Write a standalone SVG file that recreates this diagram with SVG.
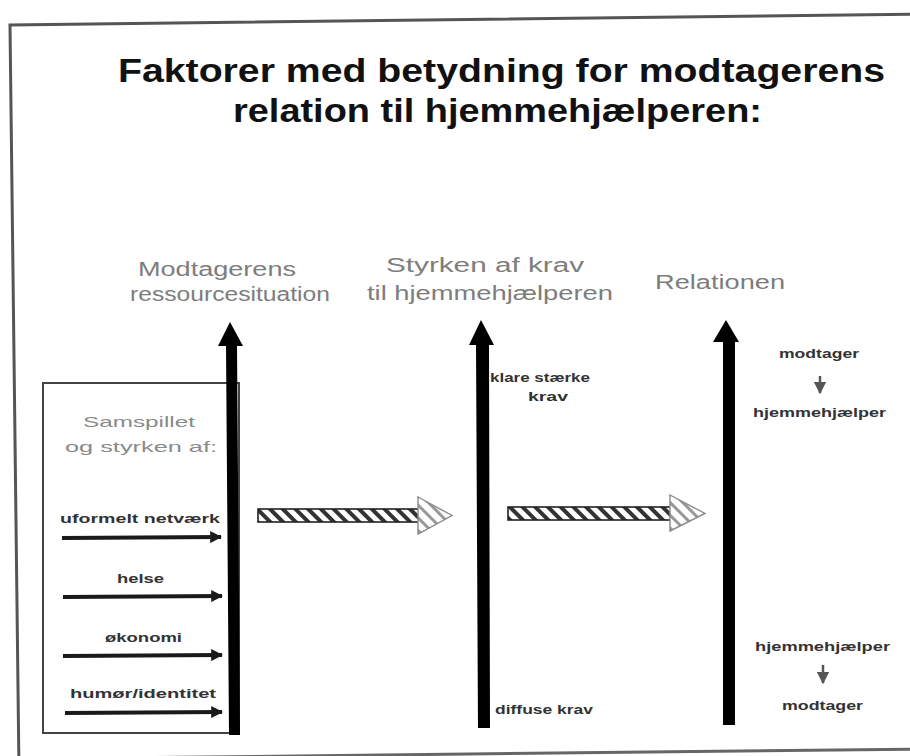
<svg xmlns="http://www.w3.org/2000/svg" width="910" height="756" viewBox="0 0 910 756">
  <defs>
    <style>
      .title { font-family: "Liberation Sans", Arial, sans-serif; font-weight: bold; font-size: 34px; fill: #111; }
      .head { font-family: "Liberation Sans", Arial, sans-serif; font-size: 20px; fill: #7d7d7d; }
      .lbl { font-family: "Liberation Sans", Arial, sans-serif; font-weight: bold; font-size: 12px; fill: #333; }
      .lblg { font-family: "Liberation Sans", Arial, sans-serif; font-size: 15px; fill: #8a8a8a; }
      .shaft { fill: #000; }
      .thin { stroke: #1a1a1a; stroke-width: 4; fill: none; }
      .hatch { fill: url(#stripes); stroke: #222; stroke-width: 1.6; }
      .hatchhead { fill: url(#stripesLight); stroke: #8a8a8a; stroke-width: 1.4; }
    </style>
    <pattern id="stripes" patternUnits="userSpaceOnUse" width="9" height="9" patternTransform="rotate(-45)">
      <rect width="9" height="9" fill="#fff"/>
      <rect width="4" height="9" fill="#333"/>
    </pattern>
    <pattern id="stripesLight" patternUnits="userSpaceOnUse" width="9" height="9" patternTransform="rotate(-45)">
      <rect width="9" height="9" fill="#fff"/>
      <rect width="3" height="9" fill="#999"/>
    </pattern>
    <marker id="smallHead" viewBox="0 0 10 10" refX="9" refY="5" markerWidth="3" markerHeight="3" orient="auto" markerUnits="strokeWidth">
      <path d="M0,0 L10,5 L0,10 Z" fill="#1a1a1a"/>
    </marker>
    <marker id="tinyDown" viewBox="0 0 10 10" refX="9" refY="5" markerWidth="5" markerHeight="5" orient="auto" markerUnits="strokeWidth">
      <path d="M0,0 L10,5 L0,10 Z" fill="#555"/>
    </marker>
  </defs>

  <rect width="910" height="756" fill="#fff"/>

  <!-- page frame, slightly skewed as on the printed sheet -->
  <path d="M924,14 L10,25 L19,770" fill="none" stroke="#555" stroke-width="3"/>
  <path d="M19,759 L924,749" fill="none" stroke="#666" stroke-width="3"/>

  <!-- title -->
  <g id="title">
    <text class="title" x="118" y="82" textLength="767" lengthAdjust="spacingAndGlyphs">Faktorer med betydning for modtagerens</text>
    <text class="title" x="233" y="122" textLength="529" lengthAdjust="spacingAndGlyphs">relation til hjemmehjælperen:</text>
  </g>

  <!-- column 1: the recipient's resources -->
  <g id="col-ressourcer">
    <text class="head" x="138" y="276" textLength="158" lengthAdjust="spacingAndGlyphs">Modtagerens</text>
    <text class="head" x="130" y="301" textLength="200" lengthAdjust="spacingAndGlyphs">ressourcesituation</text>
  </g>

  <g id="samspil-box">
    <rect x="43" y="383" width="196" height="350" fill="none" stroke="#444" stroke-width="2"/>
    <text class="lblg" x="83" y="427" textLength="112" lengthAdjust="spacingAndGlyphs">Samspillet</text>
    <text class="lblg" x="65" y="452" textLength="152" lengthAdjust="spacingAndGlyphs">og styrken af:</text>
  </g>

  <g id="faktor-netvaerk">
    <text class="lbl" x="60" y="523" textLength="160" lengthAdjust="spacingAndGlyphs">uformelt netværk</text>
  </g>
  <g id="faktor-helse">
    <text class="lbl" x="117" y="583" textLength="47" lengthAdjust="spacingAndGlyphs">helse</text>
  </g>
  <g id="faktor-oekonomi">
    <text class="lbl" x="105" y="642" textLength="77" lengthAdjust="spacingAndGlyphs">økonomi</text>
  </g>
  <g id="faktor-identitet">
    <text class="lbl" x="70" y="698" textLength="146" lengthAdjust="spacingAndGlyphs">humør/identitet</text>
  </g>

  <!-- column 2: strength of demands -->
  <g id="col-krav">
    <text class="head" x="386" y="272" textLength="198" lengthAdjust="spacingAndGlyphs">Styrken af krav</text>
    <text class="head" x="367" y="300" textLength="246" lengthAdjust="spacingAndGlyphs">til hjemmehjælperen</text>
    <text class="lbl" x="490" y="382" textLength="100" lengthAdjust="spacingAndGlyphs">klare stærke</text>
    <text class="lbl" x="528" y="401" textLength="40" lengthAdjust="spacingAndGlyphs">krav</text>
    <text class="lbl" x="495" y="714" textLength="98" lengthAdjust="spacingAndGlyphs">diffuse krav</text>
  </g>

  <!-- column 3: the relation -->
  <g id="col-relation">
    <text class="head" x="655" y="289" textLength="130" lengthAdjust="spacingAndGlyphs">Relationen</text>
    <text class="lbl" x="779" y="358" textLength="80" lengthAdjust="spacingAndGlyphs">modtager</text>
    <text class="lbl" x="753" y="417" textLength="133" lengthAdjust="spacingAndGlyphs">hjemmehjælper</text>
    <text class="lbl" x="755" y="651" textLength="135" lengthAdjust="spacingAndGlyphs">hjemmehjælper</text>
    <text class="lbl" x="782" y="710" textLength="81" lengthAdjust="spacingAndGlyphs">modtager</text>
  </g>

  <!-- connectors -->
  <g id="connectors">
    <!-- vertical scales -->
    <polygon class="shaft" points="230,322 243,346 237,346 240,735 229,735 226,346 218,346"/>
    <polygon class="shaft" points="481,320 494,345 489,345 490,728 478,728 476,345 469,345"/>
    <polygon class="shaft" points="726,320 739,342 735,342 735,725 723,725 723,342 713,342"/>

    <!-- factor arrows inside the box -->
    <line class="thin" x1="62" y1="538" x2="221" y2="537" marker-end="url(#smallHead)"/>
    <line class="thin" x1="63" y1="597" x2="222" y2="596" marker-end="url(#smallHead)"/>
    <line class="thin" x1="63" y1="656" x2="222" y2="655" marker-end="url(#smallHead)"/>
    <line class="thin" x1="65" y1="713" x2="222" y2="712" marker-end="url(#smallHead)" stroke="#444"/>

    <!-- hatched transfer arrows -->
    <rect class="hatch" x="258" y="509" width="161" height="13"/>
    <polygon class="hatchhead" points="418,497 452,515.5 418,534"/>
    <rect class="hatch" x="508" y="507" width="163" height="13"/>
    <polygon class="hatchhead" points="670,495 705,513.5 670,531"/>

    <!-- direction of the relation -->
    <line x1="820" y1="376" x2="820" y2="393" stroke="#555" stroke-width="2.5" marker-end="url(#tinyDown)"/>
    <line x1="823" y1="665" x2="823" y2="683" stroke="#555" stroke-width="2.5" marker-end="url(#tinyDown)"/>
  </g>
</svg>
